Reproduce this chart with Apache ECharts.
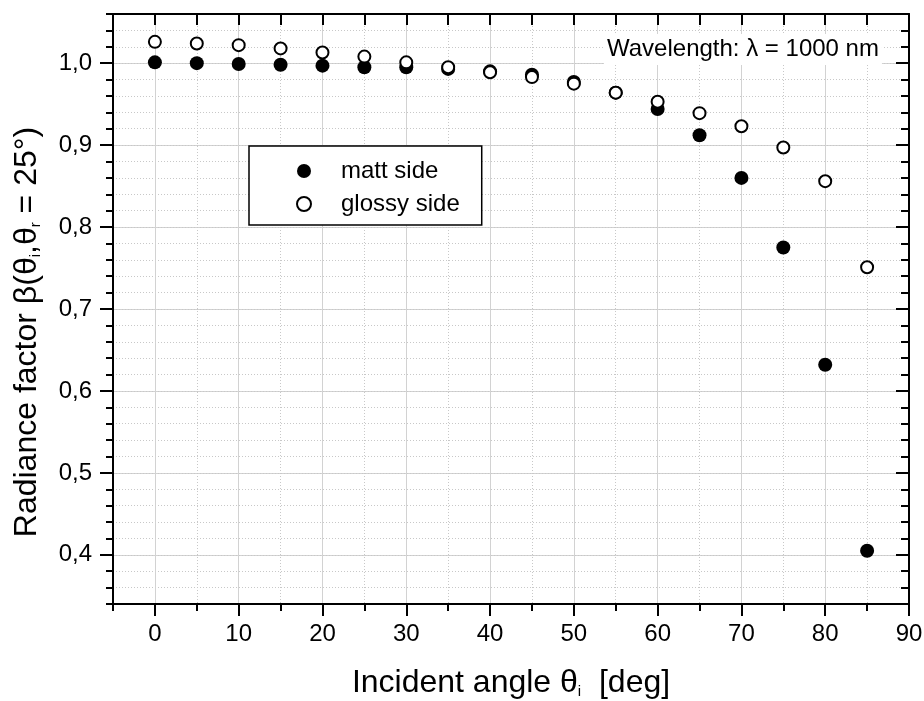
<!DOCTYPE html>
<html>
<head>
<meta charset="utf-8">
<script src="https://cdn.jsdelivr.net/npm/echarts@6/dist/echarts.min.js"></script>
<style>
html,body{margin:0;padding:0;background:#fff;}
#c{width:924px;height:701px;}
</style>
</head>
<body>
<div id="c"></div>
<script>
// ---- data ----
const angles = [0, 5, 10, 15, 20, 25, 30, 35, 40, 45, 50, 55, 60, 65, 70, 75, 80, 85];
const mattSide = [1.001, 1.000, 0.999, 0.998, 0.997, 0.995, 0.995, 0.993, 0.990, 0.986, 0.977, 0.964, 0.944, 0.912, 0.860, 0.775, 0.632, 0.405];
const glossySide = [1.026, 1.024, 1.022, 1.018, 1.013, 1.008, 1.001, 0.995, 0.989, 0.983, 0.975, 0.964, 0.953, 0.939, 0.923, 0.897, 0.856, 0.751];
const seriesNames = ['matt side', 'glossy side'];
const xMajorTicks = [0, 10, 20, 30, 40, 50, 60, 70, 80, 90];
const xMinorTicks = [-5, 5, 15, 25, 35, 45, 55, 65, 75, 85];
const yMajorTicks = [0.4, 0.5, 0.6, 0.7, 0.8, 0.9, 1.0];
const yMinorTicks = [34, 36, 38, 40, 42, 44, 46, 48, 50, 52, 54, 56, 58, 60, 62, 64, 66, 68, 70, 72, 74, 76, 78, 80, 82, 84, 86, 88, 90, 92, 94, 96, 98, 100, 102, 104, 106].map(v => v / 100);
const annotation = 'Wavelength: λ = 1000 nm';

const FF = '"Liberation Sans", Arial, sans-serif';
const toPairs = (xs, ys) => xs.map((x, i) => [x, ys[i]]);

const nameRich = {
  m: { fontSize: 32, lineHeight: 32, verticalAlign: 'top', fontFamily: FF, color: '#000' },
  s: { fontSize: 15, lineHeight: 15, padding: [24, 0, 0, 0], verticalAlign: 'bottom', fontFamily: FF, color: '#000' }
};

const blackLine = { color: '#000', width: 2 };
const xBase = { type: 'value', min: -5, max: 90, interval: 5 };
const yBase = { type: 'value', min: 0.34, max: 1.06, interval: 0.02 };

const chart = echarts.init(document.getElementById('c'), null, { renderer: 'canvas' });
const option = {
  backgroundColor: '#fff',
  animation: false,
  textStyle: { fontFamily: FF },
  grid: { left: 113, right: 15, top: 14, bottom: 97, containLabel: false, outerBoundsMode: 'none' },
  xAxis: [
    Object.assign({}, xBase, {
      position: 'bottom',
      axisLine: { show: true, onZero: false, lineStyle: blackLine },
      axisTick: { show: true, inside: false, length: 12, customValues: xMajorTicks, lineStyle: blackLine },
      axisLabel: { show: true, customValues: xMajorTicks, fontSize: 24, color: '#000', margin: 18, fontFamily: FF },
      splitLine: { show: true, lineStyle: { color: '#d2d2d2', width: 1 } },
      name: '{m|Incident angle θ}{s|i}{m|  [deg]}',
      nameLocation: 'middle', nameGap: 63,
      nameTextStyle: { rich: nameRich }
    }),
    Object.assign({}, xBase, {
      position: 'bottom',
      axisLine: { show: false, onZero: false },
      axisTick: { show: true, inside: false, length: 7, customValues: xMinorTicks, lineStyle: blackLine },
      axisLabel: { show: false },
      splitLine: { show: true, lineStyle: { color: '#c8c8c8', width: 1, type: [1, 2] } }
    }),
    Object.assign({}, xBase, {
      position: 'top',
      axisLine: { show: true, onZero: false, lineStyle: blackLine },
      axisTick: { show: true, inside: true, length: 11, lineStyle: blackLine },
      axisLabel: { show: false },
      splitLine: { show: false }
    })
  ],
  yAxis: [
    Object.assign({}, yBase, {
      position: 'left',
      axisLine: { show: true, onZero: false, lineStyle: blackLine },
      axisTick: { show: true, inside: false, length: 13, customValues: yMajorTicks, lineStyle: blackLine },
      axisLabel: { show: true, customValues: yMajorTicks, fontSize: 24, color: '#000', margin: 21, fontFamily: FF,
        formatter: v => v.toFixed(1).replace('.', ',') },
      splitLine: { show: true, lineStyle: { color: '#d2d2d2', width: 1 } },
      name: '{m|Radiance factor β(θ}{s|i}{m|,θ}{s|r}{m| = 25°)}',
      nameLocation: 'middle', nameRotate: 90, nameGap: 70,
      nameTextStyle: { rich: nameRich, padding: [0, 46, 0, 0] }
    }),
    Object.assign({}, yBase, {
      position: 'left',
      axisLine: { show: false, onZero: false },
      axisTick: { show: true, inside: false, length: 7, customValues: yMinorTicks, lineStyle: blackLine },
      axisLabel: { show: false },
      splitLine: { show: true, lineStyle: { color: '#c8c8c8', width: 1, type: [1, 2] } }
    }),
    Object.assign({}, yBase, {
      position: 'right',
      axisLine: { show: true, onZero: false, lineStyle: blackLine },
      axisTick: { show: true, inside: true, length: 8, customValues: yMinorTicks, lineStyle: blackLine },
      axisLabel: { show: false },
      splitLine: { show: false }
    }),
    Object.assign({}, yBase, {
      position: 'right',
      axisLine: { show: false, onZero: false },
      axisTick: { show: true, inside: true, length: 13, customValues: yMajorTicks, lineStyle: blackLine },
      axisLabel: { show: false },
      splitLine: { show: false }
    })
  ],
  legend: {
    show: true, orient: 'vertical', left: 249, top: 146,
    padding: [13, 22, 9, 47],
    itemWidth: 14, itemHeight: 14, itemGap: 9,
    backgroundColor: '#fff', borderColor: '#000', borderWidth: 1.5,
    textStyle: { fontSize: 24, lineHeight: 23, color: '#000', fontFamily: FF, padding: [0, 0, 0, 25] },
    data: seriesNames
  },
  graphic: [
    {
      type: 'text', left: 604, top: 34, z: 100,
      style: { text: annotation, font: '24px "Liberation Sans", Arial, sans-serif', fill: '#000',
        backgroundColor: '#fff', padding: [3, 3, 4, 3], lineHeight: 24 }
    }
  ],
  series: [
    {
      name: seriesNames[0], type: 'scatter', xAxisIndex: 0, yAxisIndex: 0,
      symbol: 'circle', symbolSize: 14,
      itemStyle: { color: '#000', borderWidth: 0, opacity: 1 },
      data: toPairs(angles, mattSide), z: 3
    },
    {
      name: seriesNames[1], type: 'scatter', xAxisIndex: 0, yAxisIndex: 0,
      symbol: 'circle', symbolSize: 12,
      itemStyle: { color: '#fff', borderColor: '#000', borderWidth: 2, opacity: 1 },
      data: toPairs(angles, glossySide), z: 4
    }
  ]
};
chart.setOption(option);
</script>
</body>
</html>
